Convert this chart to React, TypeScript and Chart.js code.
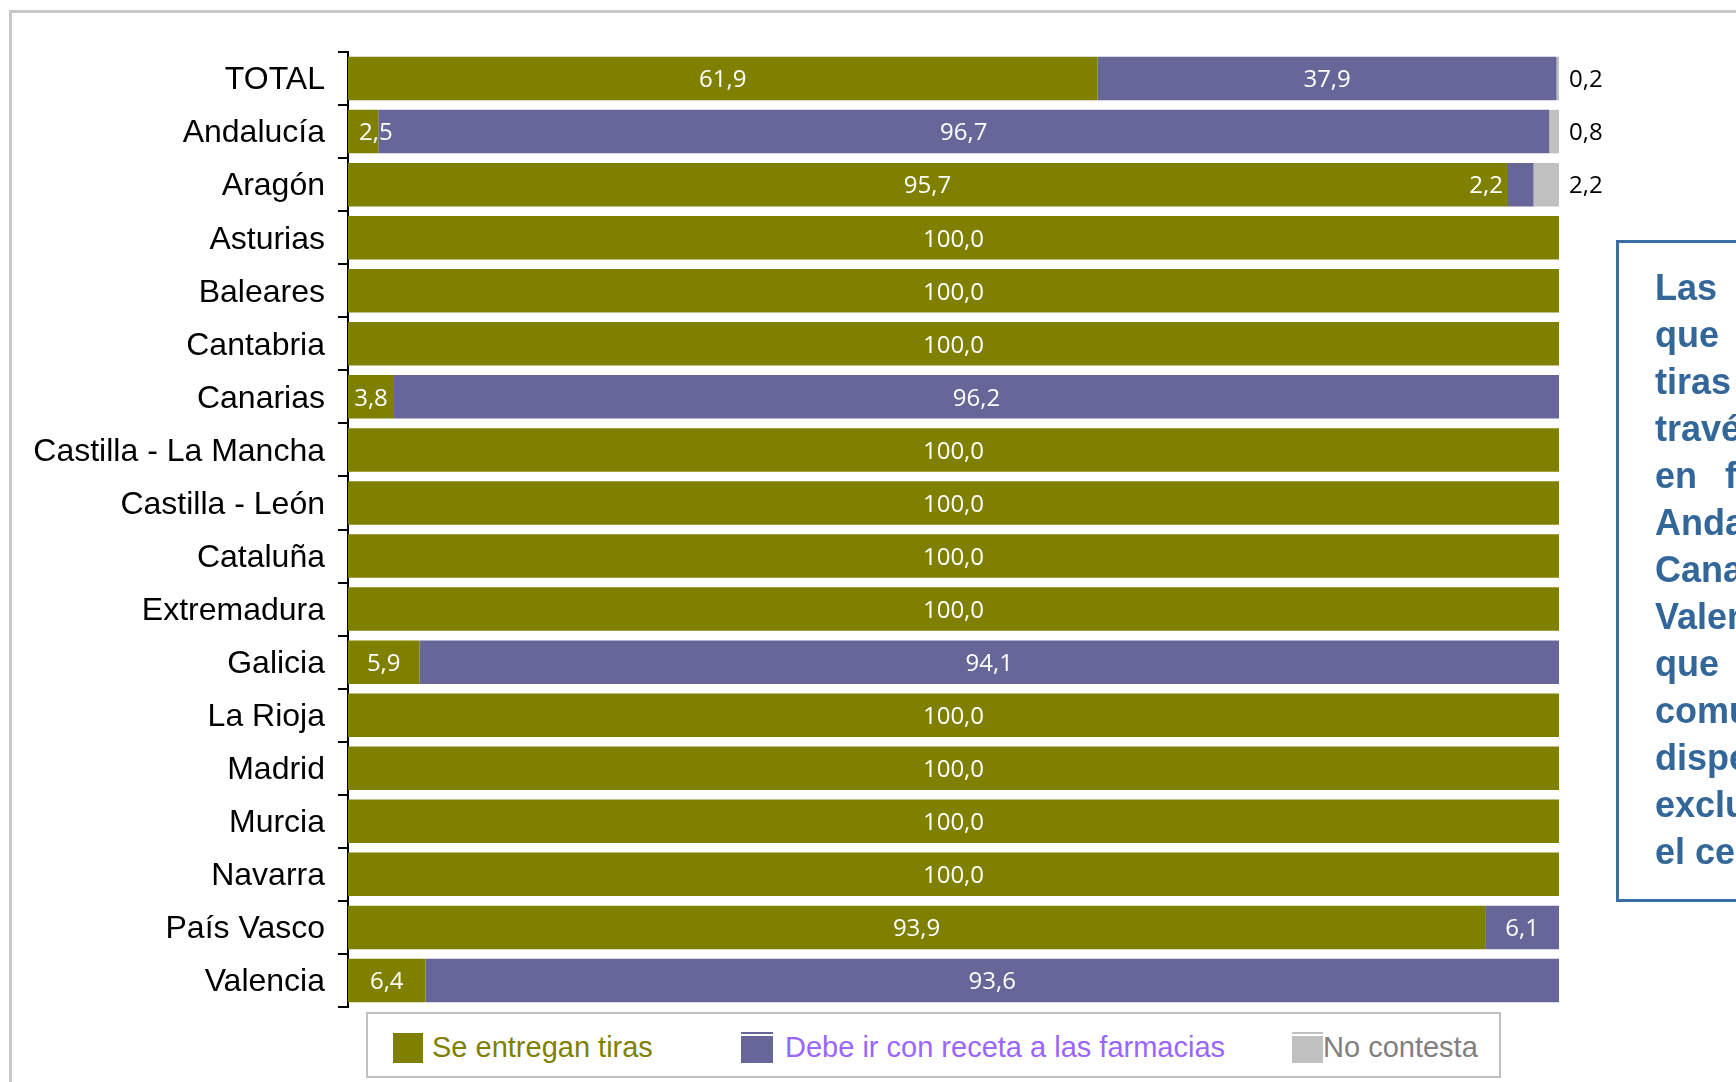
import React, { useEffect, useRef } from "react";
import { Chart, registerables } from "chart.js";

Chart.register(...registerables);

const categories = [
  "TOTAL",
  "Andalucía",
  "Aragón",
  "Asturias",
  "Baleares",
  "Cantabria",
  "Canarias",
  "Castilla - La Mancha",
  "Castilla - León",
  "Cataluña",
  "Extremadura",
  "Galicia",
  "La Rioja",
  "Madrid",
  "Murcia",
  "Navarra",
  "País Vasco",
  "Valencia",
];

const seEntreganTiras = [61.9, 2.5, 95.7, 100, 100, 100, 3.8, 100, 100, 100, 100, 5.9, 100, 100, 100, 100, 93.9, 6.4];
const debeIrFarmacias = [37.9, 96.7, 2.2, 0, 0, 0, 96.2, 0, 0, 0, 0, 94.1, 0, 0, 0, 0, 6.1, 93.6];
const noContesta = [0.2, 0.8, 2.2, 0, 0, 0, 0, 0, 0, 0, 0, 0, 0, 0, 0, 0, 0, 0];

const seriesNames = ["Se entregan tiras", "Debe ir con receta a las farmacias", "No contesta"];
const seriesColors = ["#808000", "#666699", "#c0c0c0"];
const legendTextColors = ["#808000", "#9966ff", "#808080"];

const noteLines = [
  "Las comunidades",
  "que entregan las",
  "tiras son, a",
  "través de receta",
  "en farmacias,",
  "Andalucía,",
  "Canarias y",
  "Valencia, ya",
  "que en estas",
  "comunidades se",
  "dispensan",
  "exclusivamente en",
  "el centro de salud.",
];
const noteWordSpacing = [80, 80, 80, 0, 18, 0, 0, 0, 80, 0, 0, 0, 0];

function fmt(v: number): string {
  return v.toFixed(1).replace(".", ",");
}

const segLabelPlugin = {
  id: "segLabels",
  afterDatasetsDraw(chart: any) {
    const ctx = chart.ctx;
    ctx.save();
    ctx.font = "24px 'Open Sans'";
    ctx.textBaseline = "middle";
    chart.data.datasets.forEach((ds: any, di: number) => {
      const meta = chart.getDatasetMeta(di);
      meta.data.forEach((bar: any, j: number) => {
        const v = ds.data[j];
        if (!v) return;
        const p = bar.getProps(["x", "y", "base"], true);
        const ty = p.y + 2;
        const txt = fmt(v);
        const w = ctx.measureText(txt).width;
        const segW = p.x - p.base;
        if (di === 2) {
          ctx.fillStyle = "#000";
          ctx.textAlign = "left";
          ctx.fillText(txt, chart.chartArea.right + 10, ty);
          return;
        }
        ctx.fillStyle = "#ffffff";
        if (w + 4 <= segW) {
          ctx.textAlign = "center";
          ctx.fillText(txt, (p.x + p.base) / 2, ty);
        } else if (di === 0) {
          ctx.textAlign = "left";
          ctx.fillText(txt, p.base + 11, ty);
        } else {
          ctx.textAlign = "right";
          ctx.fillText(txt, p.base - 4, ty);
        }
      });
    });
    ctx.restore();
  },
};

export default function App() {
  const canvasRef = useRef<HTMLCanvasElement | null>(null);

  useEffect(() => {
    if (!canvasRef.current) return;
    const data = [seEntreganTiras, debeIrFarmacias, noContesta];
    const chart = new Chart(canvasRef.current, {
      type: "bar",
      data: {
        labels: categories,
        datasets: data.map((d, i) => ({
          label: seriesNames[i],
          data: d,
          backgroundColor: seriesColors[i],
          borderWidth: 0,
          categoryPercentage: 1,
          barPercentage: 0.82,
        })),
      },
      options: {
        indexAxis: "y",
        responsive: false,
        animation: false,
        devicePixelRatio: 1,
        layout: { padding: { left: 0, top: 52, right: 177, bottom: 75 } },
        plugins: {
          legend: { display: false },
          tooltip: { enabled: false },
        },
        scales: {
          x: {
            stacked: true,
            display: false,
            min: 0,
            max: 100,
          },
          y: {
            stacked: true,
            grid: {
              display: true,
              drawOnChartArea: false,
              drawTicks: true,
              tickLength: 10,
              color: "#000",
              lineWidth: 2,
              offset: true,
            },
            border: { display: true, color: "#000", width: 2 },
            ticks: {
              color: "#000",
              autoSkip: false,
              padding: 13,
              labelOffset: 2,
              font: { family: "'Liberation Sans', Arial, sans-serif", size: 32 },
            },
            afterFit: (s: any) => {
              s.width = 348;
            },
          },
        },
      } as any,
      plugins: [segLabelPlugin],
    });
    return () => chart.destroy();
  }, []);

  const legendFont = "'Liberation Sans', Arial, sans-serif";

  return (
    <div
      style={{
        position: "fixed",
        left: 0,
        top: 0,
        width: 1736,
        height: 1082,
        overflow: "hidden",
        background: "#fff",
      }}
    >
      <div
        style={{
          position: "absolute",
          left: 9,
          top: 10,
          width: 2000,
          height: 2000,
          border: "3px solid #c8c8c8",
        }}
      />
      <canvas
        ref={canvasRef}
        width={1736}
        height={1082}
        style={{ position: "absolute", left: 0, top: 0, width: 1736, height: 1082 }}
      />
      {/* Legend box */}
      <div
        style={{
          position: "absolute",
          left: 366,
          top: 1012,
          width: 1135,
          height: 66,
          border: "2px solid #c0c0c0",
          boxSizing: "border-box",
          background: "#fff",
        }}
      />
      {/* Legend markers */}
      <div style={{ position: "absolute", left: 393, top: 1033, width: 30, height: 30, background: seriesColors[0] }} />
      <div style={{ position: "absolute", left: 741, top: 1032, width: 32, height: 2, background: seriesColors[1] }} />
      <div style={{ position: "absolute", left: 741, top: 1036, width: 32, height: 27, background: seriesColors[1] }} />
      <div style={{ position: "absolute", left: 1292, top: 1032, width: 31, height: 2, background: seriesColors[2] }} />
      <div style={{ position: "absolute", left: 1292, top: 1036, width: 31, height: 27, background: seriesColors[2] }} />
      {/* Legend texts */}
      {[432, 785, 1323].map((x, i) => (
        <div
          key={i}
          style={{
            position: "absolute",
            left: x,
            top: 1030,
            height: 34,
            lineHeight: "34px",
            fontFamily: legendFont,
            fontSize: 29,
            color: legendTextColors[i],
            whiteSpace: "nowrap",
          }}
        >
          {seriesNames[i]}
        </div>
      ))}
      {/* Note box */}
      <div
        style={{
          position: "absolute",
          left: 1616,
          top: 240,
          width: 500,
          height: 662,
          border: "3px solid #3b6ea5",
          boxSizing: "border-box",
        }}
      />
      <div
        style={{
          position: "absolute",
          left: 1655,
          top: 264,
          fontFamily: legendFont,
          fontWeight: "bold",
          fontSize: 36,
          lineHeight: "47px",
          color: "#336699",
          whiteSpace: "nowrap",
        }}
      >
        {noteLines.map((l, i) => (
          <div key={i} style={{ wordSpacing: noteWordSpacing[i] }}>
            {l}
          </div>
        ))}
      </div>
    </div>
  );
}
